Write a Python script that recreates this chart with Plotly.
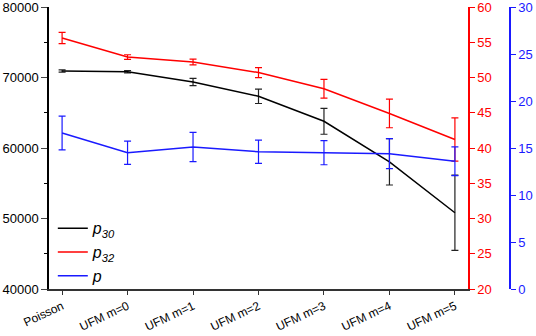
import plotly.graph_objects as go

categories = ["Poisson", "UFM m=0", "UFM m=1", "UFM m=2", "UFM m=3", "UFM m=4", "UFM m=5"]
p30 = [70920, 70820, 69360, 67330, 63790, 58040, 50820]
p30_err = [150, 150, 520, 1020, 1840, 3290, 5330]
p32 = [55.6, 52.9, 52.2, 50.7, 48.4, 44.9, 41.2]
p32_err = [0.8, 0.33, 0.4, 0.71, 1.32, 2.03, 3.07]
p = [16.6, 14.5, 15.1, 14.6, 14.5, 14.4, 13.6]
p_err = [1.79, 1.24, 1.56, 1.24, 1.28, 1.6, 1.53]

left_ticks = [40000, 50000, 60000, 70000, 80000]
red_ticks = [20, 25, 30, 35, 40, 45, 50, 55, 60]
blue_ticks = [0, 5, 10, 15, 20, 25, 30]

RED = "#ff0000"
BLUE = "#1a1aff"
FONT = "Liberation Sans, Arial, sans-serif"

fig = go.Figure()
fig.add_trace(go.Scatter(
    x=categories, y=p30, mode="lines", name="<i>p</i><sub><i>30</i></sub>",
    line=dict(color="black", width=1.5),
    error_y=dict(type="data", array=p30_err, color="#222222", thickness=1.2, width=3.5),
    yaxis="y"))
fig.add_trace(go.Scatter(
    x=categories, y=p32, mode="lines", name="<i>p</i><sub><i>32</i></sub>",
    line=dict(color=RED, width=1.5),
    error_y=dict(type="data", array=p32_err, color=RED, thickness=1.2, width=3.5),
    yaxis="y2"))
fig.add_trace(go.Scatter(
    x=categories, y=p, mode="lines", name="<i>p</i>",
    line=dict(color=BLUE, width=1.5),
    error_y=dict(type="data", array=p_err, color=BLUE, thickness=1.2, width=3.5),
    yaxis="y3"))

L, R, T, B = 49, 10, 7, 47
W, H = 536, 336
pw = W - L - R
xend = (468 - L) / pw
y3pos = (510 - L) / pw

fig.update_layout(
    width=W, height=H,
    margin=dict(l=L, r=R, t=T, b=B, autoexpand=False),
    paper_bgcolor="white", plot_bgcolor="white",
    font=dict(family=FONT, size=12, color="black"),
    showlegend=True,
    legend=dict(x=0.008, y=-0.015, xanchor="left", yanchor="bottom",
                bgcolor="rgba(0,0,0,0)", font=dict(size=16, family=FONT),
                tracegroupgap=0),
    xaxis=dict(domain=[0, xend], range=[-0.2, 6.2], showline=True, linecolor="#333333",
               linewidth=1.5, ticks="outside", ticklen=4, tickcolor="#333333",
               tickangle=-25, showgrid=False, zeroline=False, ticklabelstandoff=0,
               tickfont=dict(size=12, family=FONT)),
    yaxis=dict(range=[40000, 80000], tickvals=left_ticks,
               ticktext=[str(v) for v in left_ticks], ticklabeloverflow="allow",
               showline=True, linecolor="black", linewidth=1.5, ticks="outside",
               ticklen=6, showgrid=False, zeroline=False,
               minor=dict(ticks="outside", dtick=5000, ticklen=3, tickcolor="black"),
               tickfont=dict(size=13, family=FONT)),
    yaxis2=dict(range=[20, 60], tickvals=red_ticks, ticktext=[str(v) for v in red_ticks],
                ticklabeloverflow="allow",
                overlaying="y", side="right", anchor="x", showline=True,
                linecolor=RED, linewidth=1.5, ticks="outside", ticklen=5, tickcolor=RED,
                showgrid=False, zeroline=False,
                tickfont=dict(size=13, color=RED, family=FONT)),
    yaxis3=dict(range=[0, 30], tickvals=blue_ticks, ticktext=[str(v) for v in blue_ticks],
                ticklabeloverflow="allow",
                overlaying="y", side="right", anchor="free", position=y3pos,
                showline=True, linecolor=BLUE, linewidth=1.5, ticks="outside",
                ticklen=5, tickcolor=BLUE, showgrid=False, zeroline=False,
                tickfont=dict(size=13, color=BLUE, family=FONT)),
)

fig.write_html("out.html", config={"displayModeBar": False},
               post_script="document.body.style.margin='0';document.body.style.padding='0';")
